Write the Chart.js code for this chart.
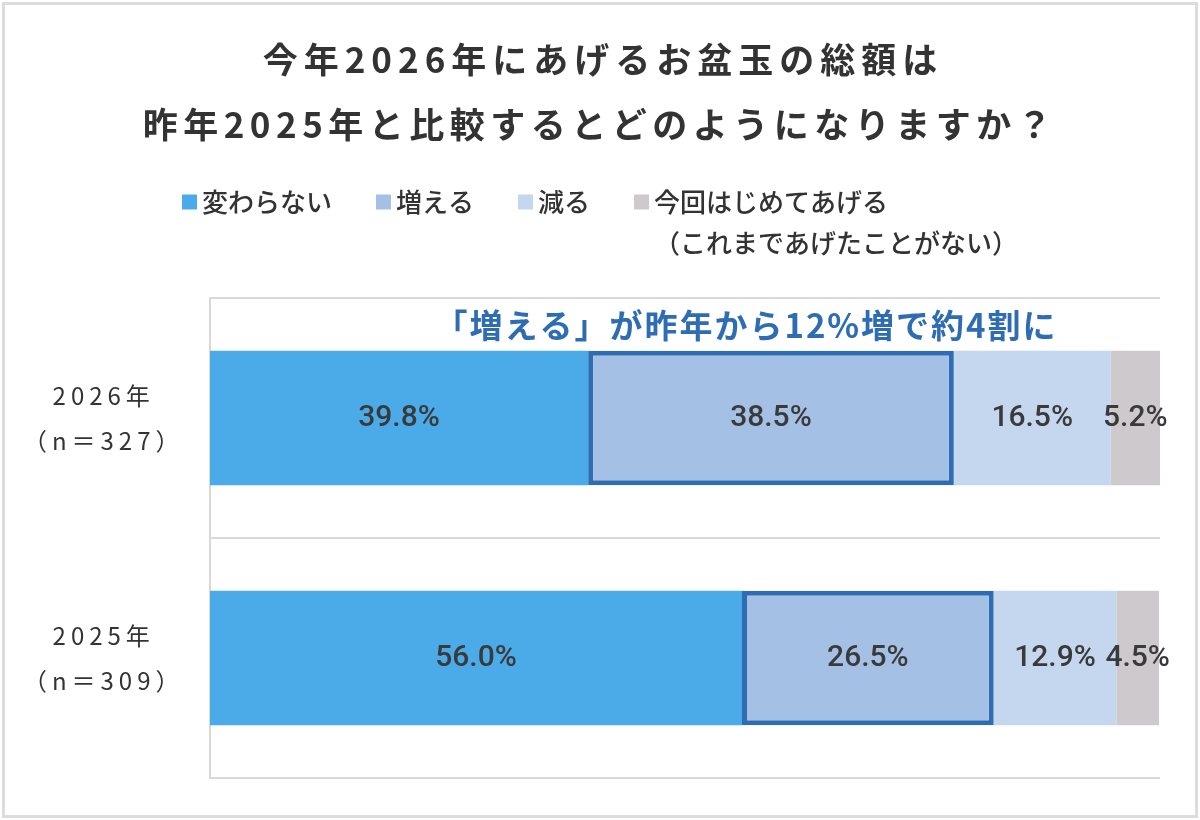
<!DOCTYPE html>
<html lang="ja">
<head>
<meta charset="UTF-8">
<title>お盆玉の総額 2026年と2025年の比較</title>
<script src="https://cdn.jsdelivr.net/npm/chart.js"></script>
<style>
    body { margin: 0; background: #fff; }
    .wrap { position: relative; width: 1200px; height: 820px; }
    .frame {
        position: absolute; left: 2px; top: 2px; width: 1196px; height: 816px;
        border: 3px solid #dcdcdc; box-sizing: border-box; pointer-events: none;
    }
    canvas { display: block; }
</style>
</head>
<body>
<div class="wrap">
    <canvas id="chart" width="1200" height="820"></canvas>
    <div class="frame"></div>
</div>
<script>
// data
const categories = [['2026年', '（n＝327）'], ['2025年', '（n＝309）']];
const seriesNames = ['変わらない', '増える', '減る', '今回はじめてあげる'];
const legendNote = '（これまであげたことがない）';
const unchanged = [39.8, 56.0];
const increased = [38.5, 26.5];
const decreased = [16.5, 12.9];
const firstTime = [5.2, 4.5];
const titleLines = ['今年2026年にあげるお盆玉の総額は', '昨年2025年と比較するとどのようになりますか？'];
const callout = '「増える」が昨年から12%増で約4割に';

const colors = ['#4babe8', '#a5c0e5', '#c4d7ee', '#cdc9cc'];
const JP = '"Noto Sans CJK JP", "Noto Sans", sans-serif';

// title, legend, callout and value labels
const decorations = {
    id: 'decorations',
    beforeDraw(chart) {
        // spaced-out category labels on the y axis
        chart.ctx.letterSpacing = '5px';
    },
    beforeDatasetsDraw(chart) {
        chart.ctx.letterSpacing = '0px';
    },
    afterDatasetsDraw(chart) {
        const ctx = chart.ctx;
        ctx.save();
        ctx.font = '500 30px Roboto, "Noto Sans", sans-serif';
        ctx.fillStyle = '#3a3a3a';
        ctx.textAlign = 'center';
        ctx.textBaseline = 'middle';
        chart.data.datasets.forEach((ds, i) => {
            chart.getDatasetMeta(i).data.forEach((bar, j) => {
                ctx.fillText(ds.data[j].toFixed(1) + '%', (bar.x + bar.base) / 2, bar.y);
            });
        });
        ctx.restore();
    },
    afterDraw(chart) {
        const ctx = chart.ctx;
        ctx.save();
        ctx.textBaseline = 'middle';

        // title
        ctx.textAlign = 'center';
        ctx.fillStyle = '#333';
        ctx.font = 'bold 35px ' + JP;
        ctx.letterSpacing = '6px';
        ctx.fillText(titleLines[0], 603, 60);
        ctx.letterSpacing = '5.5px';
        ctx.fillText(titleLines[1], 600, 125);

        // callout
        ctx.fillStyle = '#2e6db4';
        ctx.font = 'bold 33px ' + JP;
        ctx.letterSpacing = '2px';
        ctx.fillText(callout, 746, 325);

        // legend
        ctx.letterSpacing = '0px';
        ctx.textAlign = 'left';
        ctx.font = '500 26px ' + JP;
        const box = 15, gap = 5, spacing = 44, y = 202;
        const items = chart.data.datasets.map((ds, i) => {
            const lines = i === 3 ? [ds.label, legendNote] : [ds.label];
            const w = Math.max(...lines.map(l => ctx.measureText(l).width));
            return { lines, w: box + gap + w, color: ds.backgroundColor };
        });
        const total = items.reduce((s, it) => s + it.w, 0) + spacing * (items.length - 1);
        let x = 600 - total / 2;
        items.forEach(it => {
            ctx.fillStyle = it.color;
            ctx.fillRect(x, y - box / 2, box, box);
            ctx.fillStyle = '#333';
            it.lines.forEach((l, k) => ctx.fillText(l, x + box + gap, y + k * 41));
            x += it.w + spacing;
        });
        ctx.restore();
    }
};

new Chart(document.getElementById('chart'), {
    type: 'bar',
    data: {
        labels: categories,
        datasets: [
            { label: seriesNames[0], data: unchanged, backgroundColor: colors[0] },
            { label: seriesNames[1], data: increased, backgroundColor: colors[1],
              borderColor: '#2e6db4', borderWidth: 5, borderSkipped: false },
            { label: seriesNames[2], data: decreased, backgroundColor: colors[2] },
            { label: seriesNames[3], data: firstTime, backgroundColor: colors[3] }
        ]
    },
    options: {
        indexAxis: 'y',
        responsive: false,
        animation: false,
        barPercentage: 0.56,
        categoryPercentage: 1,
        layout: { padding: { top: 298, right: 40, bottom: 42, left: 0 } },
        plugins: {
            legend: { display: false },
            tooltip: { enabled: false }
        },
        scales: {
            x: { stacked: true, min: 0, max: 100, display: false },
            y: {
                stacked: true,
                grid: { color: '#d9d9d9', lineWidth: 2, drawTicks: false, offset: true },
                border: { color: '#d9d9d9', width: 2 },
                ticks: {
                    color: '#333',
                    font: { family: JP, size: 24, lineHeight: 1.875 },
                    crossAlign: 'center',
                    padding: 43
                },
                afterFit(scale) {
                    scale.width = 210;
                    scale.paddingTop = 0;
                    scale.paddingBottom = 0;
                }
            }
        }
    },
    plugins: [decorations]
});
</script>
</body>
</html>
